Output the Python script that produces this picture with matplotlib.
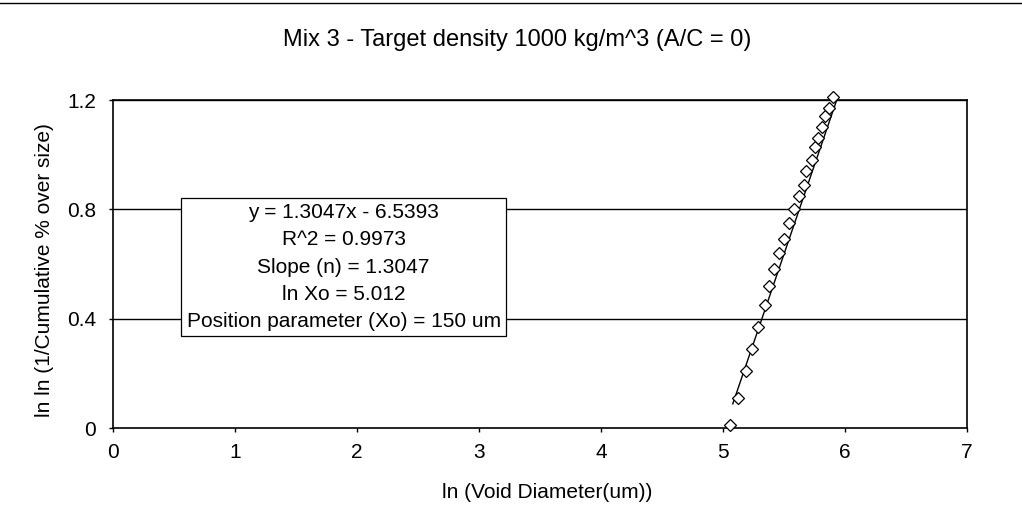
import numpy as np
import matplotlib.pyplot as plt
from matplotlib.lines import Line2D

plt.rcParams['font.family'] = ['Liberation Sans', 'DejaVu Sans']

# ln(void diameter) vs ln ln(1/cumulative % over size)
ln_d = [5.06, 5.12, 5.19, 5.24, 5.29, 5.34, 5.38, 5.42, 5.46, 5.50, 5.54,
        5.58, 5.62, 5.66, 5.68, 5.73, 5.75, 5.78, 5.81, 5.84, 5.87, 5.90]
lnln = [0.01, 0.11, 0.21, 0.29, 0.37, 0.45, 0.52, 0.58, 0.64, 0.69, 0.75,
        0.80, 0.85, 0.89, 0.94, 0.98, 1.03, 1.06, 1.10, 1.14, 1.17, 1.21]

# Excel linear trendline
slope = 1.3047
intercept = -6.5393
trend_x = [5.08, 5.94]

x_ticks = [0, 1, 2, 3, 4, 5, 6, 7]
y_ticks = [0, 0.4, 0.8, 1.2]

fig = plt.figure(figsize=(10.22, 5.17), dpi=100)
ax = fig.add_axes([0.1106, 0.1721, 0.8356, 0.6344])

tx = np.array(trend_x)
ax.plot(tx, slope * tx + intercept, color='black', lw=1.0, zorder=3)
ax.plot(ln_d, lnln, linestyle='none', marker='D', ms=6, mfc='white',
        mec='black', mew=0.9, zorder=4, clip_on=False)

ax.set_xlim(0, 7)
ax.set_ylim(0, 1.2)
ax.set_xticks(x_ticks)
ax.set_yticks(y_ticks)
ax.set_yticklabels(['0', '0.4', '0.8', '1.2'])
for y in y_ticks[1:]:
    ax.axhline(y, color='black', lw=1.0, zorder=1)
for s in ax.spines.values():
    s.set_linewidth(1.2)
ax.tick_params(direction='out', length=3, width=1, labelsize=15)
ax.tick_params(axis='y', pad=9)
ax.tick_params(axis='x', pad=8)

fig.text(0.506, 0.923, 'Mix 3 - Target density 1000 kg/m^3 (A/C = 0)',
         ha='center', va='center', fontsize=17)
fig.text(0.535, 0.048, 'ln (Void Diameter(um))', ha='center', va='center', fontsize=15)
fig.text(0.044, 0.478, 'ln ln (1/Cumulative % over size)', ha='center', va='center',
         rotation=90, fontsize=15)

ax.text(1.89, 0.589, 'y = 1.3047x - 6.5393\nR^2 = 0.9973\nSlope (n) = 1.3047\n'
        'ln Xo = 5.012\nPosition parameter (Xo) = 150 um',
        ha='center', va='center', fontsize=15, linespacing=1.55, zorder=5,
        bbox=dict(boxstyle='square,pad=0.25', fc='white', ec='black', lw=0.9))

# scanned page border along the top
fig.add_artist(Line2D([0, 1], [0.995, 0.995], color='black', lw=1.0))

fig.savefig('out.png', dpi=100)
